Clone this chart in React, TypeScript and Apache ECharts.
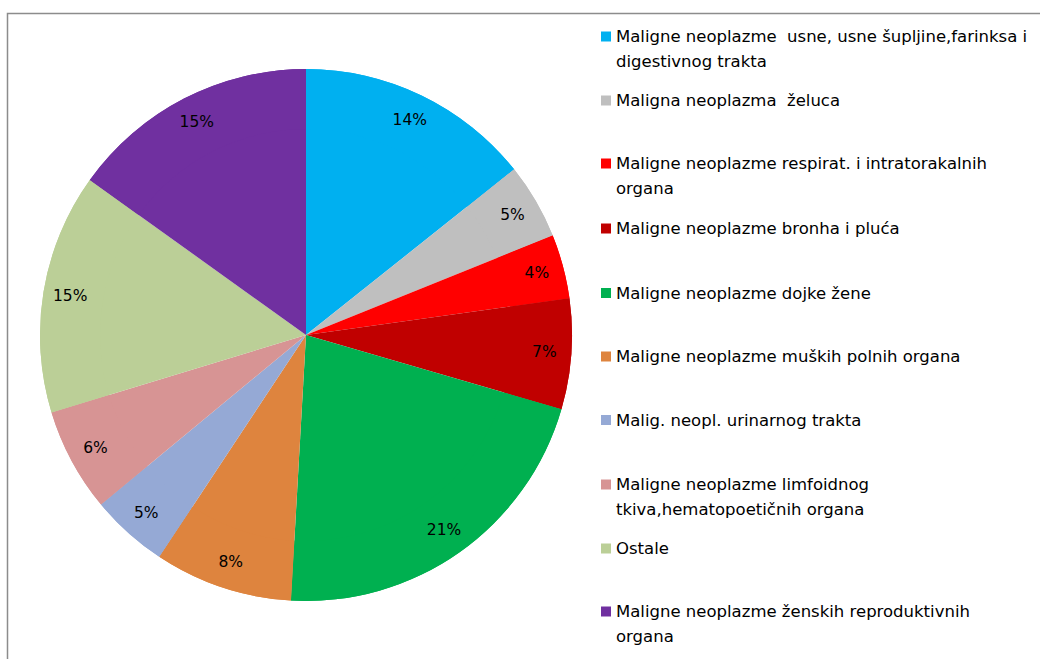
import React, { useEffect, useRef } from "react";
import * as echarts from "echarts";

const names = [
  "Maligne neoplazme  usne, usne šupljine,farinksa i\ndigestivnog trakta",
  "Maligna neoplazma  želuca",
  "Maligne neoplazme respirat. i intratorakalnih\norgana",
  "Maligne neoplazme bronha i pluća",
  "Maligne neoplazme dojke žene",
  "Maligne neoplazme muških polnih organa",
  "Malig. neopl. urinarnog trakta",
  "Maligne neoplazme limfoidnog\ntkiva,hematopoetičnih organa",
  "Ostale",
  "Maligne neoplazme ženskih reproduktivnih\norgana",
];
const values = [14.3, 4.6, 3.9, 6.7, 21.4, 8.4, 4.7, 6.3, 14.6, 15.1];
const colors = [
  "#00B0F0",
  "#BFBFBF",
  "#FF0000",
  "#C00000",
  "#00B050",
  "#DE843E",
  "#95A9D5",
  "#D79494",
  "#BBCF97",
  "#7030A0",
];
const legendLineY = [36.5, 100.5, 163.5, 228.5, 293, 356.5, 420, 484.5, 548.5, 611.5];

const FONT = "'DejaVu Sans', sans-serif";

export default function App() {
  const ref = useRef<HTMLDivElement>(null);
  useEffect(() => {
    if (!ref.current) return;
    const chart = echarts.init(ref.current, null, { renderer: "svg" });
    const data = names.map((n, i) => ({
      name: n,
      value: values[i],
      itemStyle: { color: colors[i] },
    }));
    const legends = names.map((n, i) => {
      const twoLine = n.includes("\n");
      return {
        orient: "vertical",
        left: 601,
        top: legendLineY[i] - (twoLine ? 37.5 : 12.5),
        padding: 0,
        itemWidth: 10,
        itemHeight: 10,
        itemGap: 0,
        icon: "rect",
        selectedMode: false,
        formatter: (name: string) => (twoLine ? " \n" + name : name),
        textStyle: {
          fontFamily: FONT,
          fontSize: 16.5,
          color: "#000",
          lineHeight: 25,
        },
        data: [n],
      };
    });
    chart.setOption({
      animation: false,
      backgroundColor: "#fff",
      legend: legends,
      graphic: [
        {
          type: "polyline",
          shape: { points: [[7.5, 700], [7.5, 13.5], [1100, 13.5]] },
          style: { stroke: "#8c8c8c", lineWidth: 1.5, fill: null },
          silent: true,
        },
      ],
      series: [
        {
          type: "pie",
          center: [306, 335],
          radius: [0, 266],
          startAngle: 90,
          clockwise: true,
          data,
          label: { show: false },
          labelLine: { show: false },
          silent: true,
        },
        {
          type: "pie",
          center: [306, 335],
          radius: [206, 266],
          startAngle: 90,
          clockwise: true,
          data,
          label: {
            show: true,
            position: "inside",
            fontFamily: FONT,
            fontSize: 15.5,
            color: "#000",
            formatter: (p: any) => Math.round(p.percent) + "%",
          },
          labelLine: { show: false },
          silent: true,
        },
      ],
    });
    return () => chart.dispose();
  }, []);
  return (
    <div
      ref={ref}
      style={{ position: "fixed", left: 0, top: 0, width: 1040, height: 659 }}
    />
  );
}
